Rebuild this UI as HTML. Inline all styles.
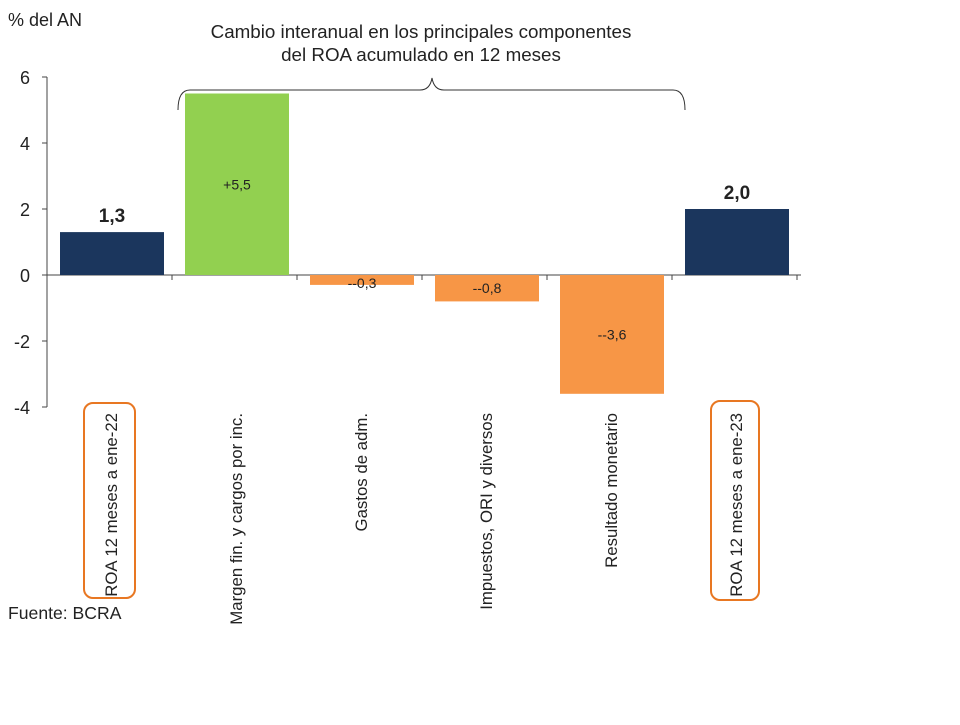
<!DOCTYPE html>
<html><head><meta charset="utf-8"><style>
body{margin:0;background:#fff;font-family:"Liberation Sans",sans-serif;}
svg text{font-family:"Liberation Sans",sans-serif;}
</style></head><body>
<svg id="chart" width="960" height="720" viewBox="0 0 960 720" xmlns="http://www.w3.org/2000/svg">
<text x="8" y="26" font-size="18" fill="#222">% del AN</text>
<text x="421" y="38" font-size="18.8" fill="#222" text-anchor="middle">Cambio interanual en los principales componentes</text>
<text x="421" y="61" font-size="18.8" fill="#222" text-anchor="middle">del ROA acumulado en 12 meses</text>
<path d="M178,110 Q178,90 190,90 L420,90 Q430,90 432,78 Q434,90 444,90 L673,90 Q685,90 685,110" fill="none" stroke="#333" stroke-width="1"/>
<g id="axes"></g>
<g id="bars"></g>
<g id="labels"></g>
<rect x="84" y="403" width="51" height="195" rx="9" fill="none" stroke="#e87722" stroke-width="2"/>
<rect x="711" y="401" width="48" height="199" rx="9" fill="none" stroke="#e87722" stroke-width="2"/>
<text x="8" y="619" font-size="17.6" fill="#222">Fuente: BCRA</text>
</svg>
<script>
const categories=["ROA 12 meses a ene-22","Margen fin. y cargos por inc.","Gastos de adm.","Impuestos, ORI y diversos","Resultado monetario","ROA 12 meses a ene-23"];
const values=[1.3,5.5,-0.3,-0.8,-3.6,2.0];
const valueLabels=["1,3","+5,5","--0,3","--0,8","--3,6","2,0"];
const yTicks=[6,4,2,0,-2,-4];
const colors=["#1b365d","#92d050","#f79646","#f79646","#f79646","#1b365d"];
const NS="http://www.w3.org/2000/svg";
const x0=47,bandW=125,barW=104,barOff=13;
const y=v=>275-v*33;
const xb=i=>x0+i*bandW;
function mk(tag,attrs,parent,txt){const e=document.createElementNS(NS,tag);for(const k in attrs)e.setAttribute(k,attrs[k]);if(txt!==undefined)e.textContent=txt;document.getElementById(parent).appendChild(e);return e;}
const ax=mk("line",{x1:x0,x2:x0,y1:y(6),y2:y(-4),stroke:"#444","stroke-width":1},"axes");


const zx=mk("line",{x1:x0,x2:xb(6)+4,y1:y(0),y2:y(0),stroke:"#444","stroke-width":1},"axes");


yTicks.forEach(t=>{
 const tl=mk("line",{x1:x0-5,x2:x0,y1:y(t),y2:y(t),stroke:"#444"},"axes");
 
 
 const tx=mk("text",{x:30,y:y(t)+7,"font-size":18,fill:"#222","text-anchor":"end"},"axes",String(t));
 
 
});
for(let i=1;i<=6;i++){
 const s=mk("line",{x1:xb(i),x2:xb(i),y1:y(0),y2:y(0)+5,stroke:"#444"},"axes");
 
 
}
values.forEach((v,i)=>{
 const top=Math.min(y(v),y(0)),h=Math.abs(y(v)-y(0));
 const r=mk("rect",{x:xb(i)+barOff,y:top,width:barW,height:h,fill:colors[i]},"bars");
 
 
 const cx=xb(i)+barOff+barW/2;
 let ly,bold=false,fs=14;
 if(i===0||i===5){ly=y(v)-10;bold=true;fs=19;}
 else if(v>0){ly=y(v/2)+5;}
 else{ly=Math.max(y(v/2)+5,y(0)+13);}
 const t=mk("text",{x:cx,y:ly,"font-size":fs,"font-weight":bold?"bold":"normal",fill:"#222","text-anchor":"middle"},"labels",valueLabels[i]);
 
 
 const c=mk("text",{transform:"translate("+(cx+5)+",413) rotate(-90)","font-size":16.8,fill:"#222","text-anchor":"end"},"labels",categories[i]);
 
 
});
</script>
</body></html>
